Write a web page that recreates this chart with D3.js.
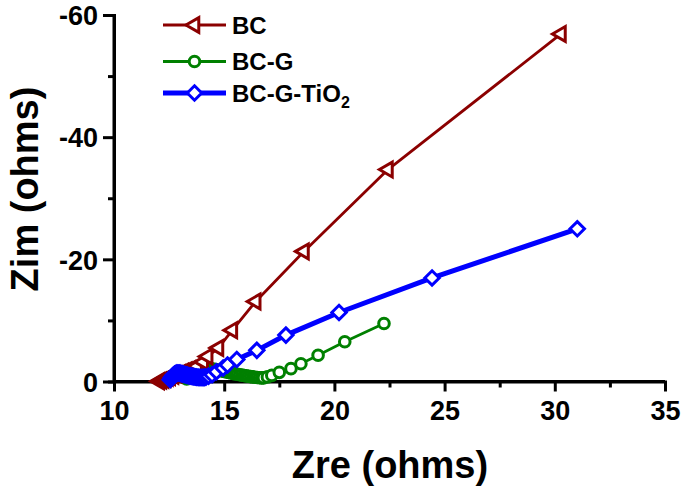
<!DOCTYPE html>
<html>
<head>
<meta charset="utf-8">
<script src="https://cdn.jsdelivr.net/npm/d3@7/dist/d3.min.js"></script>
<style>
  html, body { margin: 0; padding: 0; background: #fff; }
  svg { display: block; font-family: "Liberation Sans", Arial, sans-serif; }
</style>
</head>
<body>
<svg id="chart" width="685" height="489"></svg>
<script>
// ---- data (Zre, Zim in ohms) ----
const xTickValues = [10, 15, 20, 25, 30, 35];
const yTickValues = [0, -20, -40, -60];
const seriesNames = ["BC", "BC-G", "BC-G-TiO2"];
const seriesColors = ["#8B0000", "#008000", "#0000FF"];

const bcData = [
  [12.05, -0.05], [12.15, -0.15], [12.25, -0.3], [12.35, -0.45], [12.45, -0.6],
  [12.55, -0.75], [12.7, -0.95], [12.85, -1.15], [13.0, -1.35], [13.15, -1.6],
  [13.3, -1.8], [13.46, -2.0], [13.77, -2.5], [14.05, -3.2], [14.25, -4.1],
  [14.74, -5.5], [15.37, -8.4], [16.43, -13.1], [18.62, -21.3], [22.43, -34.7],
  [30.28, -56.9]
];

const bcgData = [
  [13.3, -0.4], [13.4, -0.75], [13.5, -1.05], [13.6, -1.3], [13.7, -1.5],
  [13.8, -1.7], [13.9, -1.85], [14.0, -1.97], [14.1, -2.05], [14.2, -2.1],
  [14.3, -2.1], [14.4, -2.07], [14.5, -2.02], [14.6, -1.95], [14.7, -1.88],
  [14.8, -1.8], [14.9, -1.72], [15.0, -1.63], [15.1, -1.55], [15.2, -1.47],
  [15.3, -1.4], [15.4, -1.32], [15.5, -1.25], [15.6, -1.18], [15.7, -1.1],
  [15.8, -1.04], [15.9, -0.98], [16.0, -0.92], [16.1, -0.86], [16.2, -0.8],
  [16.3, -0.75], [16.4, -0.7], [16.5, -0.66], [16.6, -0.62], [16.7, -0.6],
  [16.78, -0.6], [16.96, -0.75], [17.16, -1.0], [17.5, -1.5], [18.03, -2.1],
  [18.48, -2.9], [19.26, -4.3], [20.47, -6.5], [22.25, -9.5]
];

const bcgtData = [
  [12.55, -0.3], [12.6, -0.6], [12.65, -0.85], [12.7, -1.05], [12.75, -1.2],
  [12.8, -1.3], [12.85, -1.38], [12.9, -1.4], [12.95, -1.4], [13.0, -1.36],
  [13.05, -1.3], [13.1, -1.25], [13.15, -1.2], [13.2, -1.15], [13.25, -1.1],
  [13.3, -1.05], [13.35, -1.0], [13.4, -0.95], [13.45, -0.9], [13.5, -0.87],
  [13.55, -0.83], [13.6, -0.8], [13.65, -0.77], [13.7, -0.74], [13.75, -0.71],
  [13.8, -0.69], [13.85, -0.67], [13.9, -0.65], [13.95, -0.65], [14.0, -0.65],
  [14.05, -0.66], [14.1, -0.68], [14.17, -0.72], [14.29, -0.87], [14.45, -1.1],
  [14.65, -1.6], [14.95, -2.2], [15.15, -2.7], [15.57, -3.6], [16.48, -5.1],
  [17.8, -7.6], [20.21, -11.3], [24.43, -16.95], [31.02, -25.0]
];

// ---- layout ----
const svg = d3.select("#chart");
const x = d3.scaleLinear().domain([10, 35]).range([114, 665]);
const y = d3.scaleLinear().domain([0, -60]).range([381.5, 15]);

const fmt = d => String(d);
const xAxis = d3.axisBottom(x).tickValues(xTickValues).tickFormat(fmt).tickSize(10).tickPadding(9);
const xMinor = d3.axisBottom(x).tickValues([12.5, 17.5, 22.5, 27.5, 32.5]).tickFormat("").tickSize(6);
const yAxis = d3.axisLeft(y).tickValues(yTickValues).tickFormat(fmt).tickSize(11).tickPadding(5);
const yMinor = d3.axisLeft(y).tickValues([-10, -30, -50]).tickFormat("").tickSize(6);

function styleAxis(g) {
  g.select(".domain").attr("stroke", "#000").attr("stroke-width", 3);
  g.selectAll(".tick line").attr("stroke", "#000").attr("stroke-width", 3);
  g.selectAll(".tick text").attr("fill", "#000").attr("font-size", 27).attr("font-weight", "bold")
    .attr("font-family", "Liberation Sans, Arial, sans-serif");
}

const gx = svg.append("g").attr("transform", `translate(0,${y(0)})`);
gx.call(xMinor); styleAxis(gx);
const gx2 = svg.append("g").attr("transform", `translate(0,${y(0)})`);
gx2.call(xAxis); styleAxis(gx2);
gx2.select(".domain").attr("d", `M${x(10)},0H${x(35)}`);

const gy = svg.append("g").attr("transform", `translate(${x(10)},0)`);
gy.call(yMinor); styleAxis(gy);
const gy2 = svg.append("g").attr("transform", `translate(${x(10)},0)`);
gy2.call(yAxis); styleAxis(gy2);
gy2.select(".domain").attr("d", `M0,${y(-60)}V${y(0)}`);
gy2.selectAll(".tick text").attr("dy", "0.36em");

// axis titles
svg.append("text").attr("x", 390).attr("y", 478).attr("text-anchor", "middle")
  .attr("font-size", 38).attr("font-weight", "bold").text("Zre (ohms)");
svg.append("text").attr("transform", `translate(38,${189}) rotate(-90)`).attr("text-anchor", "middle")
  .attr("font-size", 38).attr("font-weight", "bold").text("Zim (ohms)");

// ---- markers ----
const triPath = d3.symbol().type(d3.symbolTriangle).size(95)();
const diamondPath = "M0,-7.2L7.2,0L0,7.2L-7.2,0Z";

function drawMarker(g, kind, color) {
  if (kind === 0) {
    g.append("path").attr("d", triPath).attr("transform", "rotate(-90)")
      .attr("fill", "#fff").attr("stroke", color).attr("stroke-width", 3).attr("stroke-linejoin", "miter");
  } else if (kind === 1) {
    g.append("circle").attr("r", 5.3).attr("fill", "#fff").attr("stroke", color).attr("stroke-width", 3);
  } else {
    g.append("path").attr("d", diamondPath).attr("fill", "#fff").attr("stroke", color).attr("stroke-width", 3);
  }
}

const line = d3.line().x(d => x(d[0])).y(d => y(d[1]));
const allData = [bcData, bcgData, bcgtData];
const lineWidths = [2.8, 2.8, 5];
const drawOrder = [1, 0, 2];

drawOrder.forEach(i => {
  const g = svg.append("g");
  g.append("path").datum(allData[i]).attr("d", line).attr("fill", "none")
    .attr("stroke", seriesColors[i]).attr("stroke-width", lineWidths[i]).attr("stroke-linejoin", "round");
  allData[i].forEach(d => {
    const m = g.append("g").attr("transform", `translate(${x(d[0])},${y(d[1])})`);
    drawMarker(m, i, seriesColors[i]);
  });
});

// ---- legend ----
const legendY = [25, 61.5, 93];
seriesNames.forEach((name, i) => {
  const g = svg.append("g");
  g.append("line").attr("x1", 163).attr("x2", 226).attr("y1", legendY[i]).attr("y2", legendY[i])
    .attr("stroke", seriesColors[i]).attr("stroke-width", lineWidths[i]);
  const m = g.append("g").attr("transform", `translate(194.5,${legendY[i]})`);
  drawMarker(m, i, seriesColors[i]);
  const t = g.append("text").attr("x", 232).attr("y", legendY[i] + 8.5)
    .attr("font-size", 24).attr("font-weight", "bold").attr("fill", "#000");
  if (name === "BC-G-TiO2") {
    t.append("tspan").text("BC-G-TiO");
    t.append("tspan").attr("font-size", 16).attr("dy", 6).text("2");
  } else {
    t.text(name);
  }
});
</script>
</body>
</html>
